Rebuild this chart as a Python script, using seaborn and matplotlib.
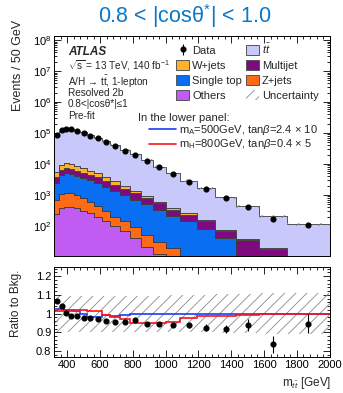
import numpy as np
import pandas as pd
import matplotlib
matplotlib.use("Agg")
import matplotlib.pyplot as plt
from matplotlib.patches import Patch
from matplotlib.lines import Line2D
from matplotlib.ticker import MultipleLocator, LogLocator, NullFormatter, FixedLocator, FixedFormatter
import seaborn as sns

# ---------------- data ----------------
bin_edges = [320, 350, 380, 410, 440, 480, 520, 560, 610, 660, 720, 780, 850,
             920, 1000, 1090, 1190, 1300, 1430, 1570, 1740, 2000]
ttbar = [75800, 109900, 119000, 121400, 110600, 97000, 77800, 64100, 50200, 36900,
         26200, 18850, 12370, 7650, 4710, 2620, 1500, 776, 388, 184, 107]
wjets = [1700, 2900, 3200, 3000, 2600, 2100, 1500, 1300, 1000, 700, 500, 220, 150,
         65, 60, 32, 17, 5, 2, 1, 2]
multijet = [1500, 1900, 2300, 2100, 1800, 1600, 1500, 1300, 1040, 720, 500, 440, 265,
            210, 115, 87, 60, 29, 27, 14, 3]
singletop = [1700, 3450, 3820, 3670, 3200, 2820, 2395, 1957, 1557, 1180, 862, 598, 464,
             299, 196, 130, 74, 38, 7, 3.5, 1.7]
zjets = [450, 660, 765, 730, 630, 470, 350, 243, 163, 100, 72, 52, 30, 19, 13, 4.5, 2,
         0.8, 0.3, 0.1, 0.1]
others = [250, 390, 415, 400, 370, 310, 255, 200, 140, 100, 66, 40, 21, 12, 6, 3.5, 2,
          1.2, 0.7, 0.4, 0.2]
data = [87000, 124000, 130000, 130000, 118000, 102000, 82000, 67000, 52000, 38000,
        27000, 19500, 12600, 7800, 4800, 2700, 1530, 780, 400, 170, 108]
data_relerr = [0.004, 0.003, 0.003, 0.003, 0.003, 0.003, 0.004, 0.004, 0.004, 0.005,
               0.006, 0.007, 0.008, 0.01, 0.012, 0.015, 0.02, 0.025, 0.035, 0.055, 0.055]
bkg_relunc = [0.095] * 14 + [0.1, 0.1, 0.1, 0.105, 0.105, 0.11, 0.11]
sig_A500 = [1.025, 1.025, 1.022, 1.018, 1.012, 1.0, 0.985, 0.98, 0.995, 0.99, 0.995,
            0.997, 0.997, 0.998, 0.998, 0.998, 0.999, 0.999, 1.0, 1.0, 1.0]
sig_H800 = [1.012, 1.012, 1.012, 1.015, 1.018, 1.018, 1.015, 1.012, 0.995, 0.985, 0.97,
            0.95, 0.95, 0.95, 0.955, 0.978, 0.99, 0.99, 0.995, 0.998, 1.0]

proc_names = [r"$t\bar{t}$", "W+jets", "Multijet", "Single top", "Z+jets", "Others"]
proc_values = [ttbar, wjets, multijet, singletop, zjets, others]
proc_colors = ["#c8c8fa", "#fdb22a", "#7f0a7f", "#0a6ef2", "#ff6a16", "#c15cf2"]

# ---------------- style ----------------
sns.set_style("ticks")
plt.rcParams["font.family"] = ["Liberation Sans", "DejaVu Sans"]
plt.rcParams["mathtext.fontset"] = "custom"
plt.rcParams["mathtext.rm"] = "Liberation Sans"
plt.rcParams["mathtext.it"] = "Liberation Sans:italic"
plt.rcParams["mathtext.bf"] = "Liberation Sans:bold"
plt.rcParams["hatch.linewidth"] = 0.6

edges = np.array(bin_edges, dtype=float)
centers = 0.5 * (edges[:-1] + edges[1:])

rows = []
for name, vals in zip(proc_names, proc_values):
    for c, v in zip(centers, vals):
        rows.append({"mtt": c, "w": v, "process": name})
df = pd.DataFrame(rows)

fig = plt.figure(figsize=(3.43, 3.93), dpi=100)
ax1 = fig.add_axes([0.158, 0.349, 0.803, 0.559])
ax2 = fig.add_axes([0.158, 0.092, 0.803, 0.229])

sns.histplot(data=df, x="mtt", weights="w", hue="process", hue_order=proc_names,
             bins=bin_edges, multiple="stack", element="step",
             palette=dict(zip(proc_names, proc_colors)), alpha=1,
             edgecolor="#3c3c3c", linewidth=0.6, legend=False, ax=ax1)

total = np.sum(np.array(proc_values, dtype=float), axis=0)
unc = np.array(bkg_relunc)
ax1.stairs(total * (1 + unc), edges, baseline=total * (1 - unc), fill=True,
           facecolor="none", edgecolor="#8a8a8a", linewidth=0, hatch="///")
darr = np.array(data, dtype=float)
derr = np.array(data_relerr)
eb = ax1.errorbar(centers, darr, yerr=darr * derr, fmt="o", color="black", ms=3.4,
                  elinewidth=0.8, capsize=0)

ax1.set_yscale("log")
ax1.set_xlim(320, 2000)
ax1.set_ylim(10.7, 1.35e8)
ax1.set_xlabel("")
ax1.set_ylabel("")
ax1.tick_params(labelbottom=False)

# ratio panel
ratio = darr / total
ax2.stairs(1 + unc, edges, baseline=1 - unc, fill=True, facecolor="none",
           edgecolor="#8a8a8a", linewidth=0, hatch="///")
ax2.stairs(sig_A500, edges, baseline=None, color="#1f3cf5", linewidth=1.2)
ax2.stairs(sig_H800, edges, baseline=None, color="#f5141e", linewidth=1.2)
ax2.errorbar(centers, ratio, yerr=ratio * derr, fmt="o", color="black", ms=3.4,
             elinewidth=0.8, capsize=0)
ax2.set_xlim(320, 2000)
ax2.set_ylim(0.77, 1.25)
ax2.set_xlabel("")
ax2.set_ylabel("")

for ax in (ax1, ax2):
    ax.tick_params(which="both", direction="in", top=True, right=True,
                   labelsize=8, pad=2, width=0.6, colors="black")
    ax.tick_params(which="major", length=5)
    ax.tick_params(which="minor", length=2.5)
    for s in ax.spines.values():
        s.set_linewidth(0.7)
        s.set_color("black")
    ax.xaxis.set_major_locator(MultipleLocator(200))
    ax.xaxis.set_minor_locator(MultipleLocator(40))

ax1.yaxis.set_major_locator(LogLocator(base=10, numticks=20))
ax1.yaxis.set_minor_locator(LogLocator(base=10, subs=np.arange(2, 10), numticks=20))
ax1.yaxis.set_minor_formatter(NullFormatter())
ax2.yaxis.set_major_locator(FixedLocator([0.8, 0.9, 1.0, 1.1, 1.2]))
ax2.yaxis.set_major_formatter(FixedFormatter(["0.8", "0.9", "1", "1.1", "1.2"]))
ax2.yaxis.set_minor_locator(MultipleLocator(0.02))

# axis labels
fig.text(18 / 343, 1 - 20 / 393, "Events / 50 GeV", rotation=90, ha="center",
         va="top", fontsize=9)
fig.text(16 / 343, 1 - 270 / 393, "Ratio to Bkg.", rotation=90, ha="center",
         va="top", fontsize=8.5)
fig.text(331 / 343, 1 - 383 / 393, r"m$_{t\bar{t}}$ [GeV]", ha="right", va="center",
         fontsize=8.5)

# title
fig.text(185 / 343, 1 - 16 / 393, r"0.8 < |cosθ$^{*}$| < 1.0", ha="center",
         va="center", fontsize=15.5, color="#0a78c8")

# text block
ax1.text(0.05, 0.927, "ATLAS", transform=ax1.transAxes, fontsize=8.5,
         fontweight="bold", fontstyle="italic", va="center")
info = [r"$\sqrt{\mathrm{s}}$ = 13 TeV, 140 fb$^{-1}$",
        r"A/H → t$\bar{\mathrm{t}}$, 1-lepton",
        "Resolved 2b",
        "0.8<|cosθ*|≤1",
        "Pre-fit"]
for txt, yy in zip(info, [0.868, 0.797, 0.743, 0.690, 0.638]):
    ax1.text(0.05, yy, txt, transform=ax1.transAxes, fontsize=7.2, va="center")

# legend
handles = [eb,
           Patch(facecolor=proc_colors[1], edgecolor="#555555", linewidth=0.7),
           Patch(facecolor=proc_colors[3], edgecolor="#555555", linewidth=0.7),
           Patch(facecolor=proc_colors[5], edgecolor="#555555", linewidth=0.7),
           Patch(facecolor=proc_colors[0], edgecolor="#555555", linewidth=0.7),
           Patch(facecolor=proc_colors[2], edgecolor="#555555", linewidth=0.7),
           Patch(facecolor=proc_colors[4], edgecolor="#555555", linewidth=0.7),
           Patch(facecolor="none", edgecolor="#8a8a8a", linewidth=0, hatch="///")]
labels = ["Data", "W+jets", "Single top", "Others",
          r"$t\bar{t}$", "Multijet", "Z+jets", "Uncertainty"]
leg = ax1.legend(handles, labels, ncol=2, loc="upper left",
                 bbox_to_anchor=(0.442, 0.975), frameon=False, fontsize=8,
                 handlelength=1.2, handleheight=1.0, handletextpad=0.25,
                 columnspacing=0.35, labelspacing=0.38, borderpad=0,
                 borderaxespad=0)
ax1.add_artist(leg)

ax1.text(0.304, 0.627, "In the lower panel:", transform=ax1.transAxes, fontsize=8,
         va="center")
sig_handles = [Line2D([], [], color="#1f3cf5", lw=1.2),
               Line2D([], [], color="#f5141e", lw=1.2)]
sig_labels = [r"m$_{\mathrm{A}}$=500GeV, tan$\beta$=2.4 $\times$ 10",
              r"m$_{\mathrm{H}}$=800GeV, tan$\beta$=0.4 $\times$ 5"]
ax1.legend(sig_handles, sig_labels, loc="upper left", bbox_to_anchor=(0.345, 0.605),
           frameon=False, fontsize=8, handlelength=2.4, handletextpad=0.3,
           labelspacing=0.05, borderpad=0, borderaxespad=0)

fig.savefig("out.png", dpi=100)
